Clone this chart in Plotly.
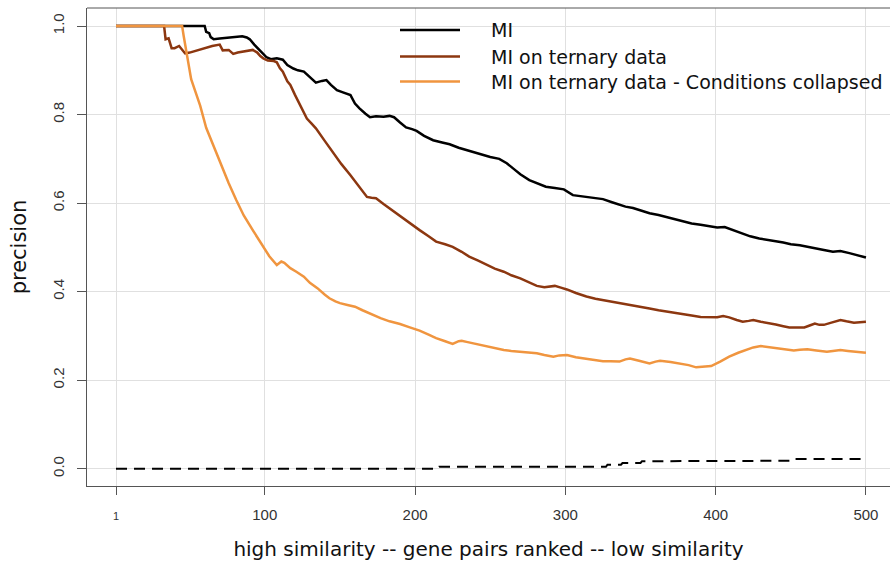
import plotly.graph_objects as go

# ---------------- data ----------------
mi_rank = [1, 60, 61, 63, 64, 66, 70, 76, 80, 85, 88, 90, 93, 96, 98, 101, 104, 108, 112, 115, 119, 122,
           126, 130, 134, 138, 141, 144, 148, 152, 157, 160, 163, 167, 170, 174, 179, 183, 186, 190, 194,
           198, 201, 206, 212, 218, 223, 229, 234, 240, 245, 250, 256, 261, 265, 270, 276, 282, 287, 293,
           299, 305, 310, 314, 320, 325, 331, 336, 340, 345, 351, 356, 362, 367, 373, 379, 384, 390, 395,
           401, 406, 412, 418, 423, 429, 434, 440, 445, 450, 456, 461, 467, 472, 478, 483, 489, 494, 500]
mi_prec = [1.0, 1.0, 0.987, 0.984, 0.975, 0.970, 0.972, 0.974, 0.976, 0.977, 0.974, 0.970, 0.958, 0.948,
           0.942, 0.930, 0.925, 0.927, 0.924, 0.912, 0.904, 0.900, 0.897, 0.885, 0.872, 0.876, 0.878, 0.867,
           0.855, 0.850, 0.844, 0.825, 0.814, 0.802, 0.794, 0.796, 0.795, 0.797, 0.794, 0.782, 0.771, 0.767,
           0.763, 0.752, 0.742, 0.737, 0.733, 0.725, 0.720, 0.714, 0.708, 0.704, 0.700, 0.690, 0.679, 0.665,
           0.652, 0.644, 0.637, 0.634, 0.631, 0.618, 0.616, 0.614, 0.612, 0.609, 0.602, 0.596, 0.592, 0.589,
           0.582, 0.577, 0.573, 0.569, 0.563, 0.558, 0.554, 0.551, 0.548, 0.545, 0.546, 0.539, 0.532, 0.525,
           0.520, 0.518, 0.514, 0.511, 0.507, 0.505, 0.502, 0.497, 0.494, 0.490, 0.492, 0.487, 0.483, 0.477]

ter_rank = [1, 33, 34, 36, 38, 40, 43, 47, 50, 55, 60, 65, 70, 72, 76, 79, 82, 86, 90, 92, 95, 97, 99, 102,
            106, 108, 110, 112, 115, 117, 120, 123, 126, 128, 131, 134, 140, 146, 151, 157, 162, 168, 171,
            174, 179, 183, 188, 192, 198, 203, 209, 214, 220, 225, 231, 236, 242, 248, 253, 259, 264, 270,
            276, 281, 286, 290, 293, 297, 301, 307, 314, 320, 325, 331, 336, 340, 345, 351, 356, 362, 367,
            373, 379, 384, 390, 395, 401, 405, 409, 414, 418, 422, 425, 430, 434, 440, 445, 449, 455, 459,
            463, 466, 469, 472, 477, 483, 487, 492, 496, 500]
ter_prec = [1.0, 1.0, 0.970, 0.972, 0.950, 0.950, 0.955, 0.938, 0.940, 0.945, 0.950, 0.955, 0.958, 0.945,
            0.946, 0.937, 0.940, 0.943, 0.946, 0.946, 0.940, 0.932, 0.927, 0.922, 0.921, 0.918, 0.905, 0.897,
            0.875, 0.867, 0.845, 0.825, 0.805, 0.791, 0.780, 0.769, 0.740, 0.712, 0.688, 0.663, 0.640, 0.614,
            0.612, 0.611, 0.598, 0.588, 0.576, 0.566, 0.550, 0.539, 0.525, 0.513, 0.507, 0.501, 0.490, 0.479,
            0.470, 0.460, 0.452, 0.445, 0.437, 0.430, 0.420, 0.413, 0.410, 0.411, 0.413, 0.409, 0.405, 0.397,
            0.389, 0.384, 0.381, 0.377, 0.374, 0.372, 0.370, 0.366, 0.362, 0.358, 0.355, 0.352, 0.349, 0.346,
            0.343, 0.342, 0.342, 0.345, 0.342, 0.336, 0.332, 0.334, 0.336, 0.332, 0.330, 0.326, 0.322, 0.319,
            0.319, 0.319, 0.324, 0.328, 0.325, 0.325, 0.330, 0.336, 0.333, 0.330, 0.331, 0.332]

col_rank = [1, 45, 46, 48, 51, 54, 57, 61, 66, 71, 76, 81, 86, 92, 98, 103, 108, 111, 113, 117, 121, 126,
            130, 135, 140, 143, 147, 150, 155, 160, 165, 170, 177, 183, 190, 196, 203, 209, 214, 220, 225,
            229, 231, 235, 239, 243, 248, 253, 259, 264, 270, 275, 281, 286, 292, 296, 301, 307, 314, 320,
            325, 330, 336, 340, 343, 349, 356, 360, 363, 370, 376, 382, 387, 393, 397, 403, 409, 415, 421,
            425, 430, 435, 441, 446, 452, 456, 461, 467, 474, 478, 483, 488, 494, 500]
col_prec = [1.0, 1.0, 0.978, 0.940, 0.880, 0.850, 0.820, 0.770, 0.727, 0.686, 0.645, 0.607, 0.572, 0.539,
            0.508, 0.480, 0.460, 0.468, 0.465, 0.453, 0.445, 0.434, 0.420, 0.408, 0.393, 0.385, 0.378, 0.374,
            0.370, 0.366, 0.358, 0.350, 0.340, 0.333, 0.327, 0.320, 0.312, 0.303, 0.295, 0.288, 0.282, 0.288,
            0.289, 0.286, 0.283, 0.279, 0.276, 0.272, 0.268, 0.266, 0.264, 0.263, 0.261, 0.257, 0.253, 0.256,
            0.257, 0.252, 0.248, 0.246, 0.243, 0.243, 0.242, 0.247, 0.249, 0.244, 0.238, 0.242, 0.244, 0.241,
            0.238, 0.234, 0.229, 0.231, 0.232, 0.242, 0.253, 0.262, 0.270, 0.274, 0.277, 0.275, 0.272, 0.270,
            0.267, 0.269, 0.270, 0.267, 0.264, 0.266, 0.268, 0.266, 0.264, 0.262]

rand_rank = [1, 215, 216, 327, 328, 337, 338, 350, 351, 400, 401, 452, 453, 500]
rand_prec = [0.0, 0.0, 0.0045, 0.0045, 0.009, 0.009, 0.013, 0.013, 0.017, 0.017, 0.018, 0.018, 0.022, 0.022]

x_ticks = [1, 100, 200, 300, 400, 500]
x_ticklabels = ['<span style="font-size:11px">1</span>', "100", "200", "300", "400", "500"]
y_ticks = [0.0, 0.2, 0.4, 0.6, 0.8, 1.0]
y_ticklabels = ["0.0", "0.2", "0.4", "0.6", "0.8", "1.0"]

legend_names = ["MI", "MI on ternary data", "MI on ternary data - Conditions collapsed"]
colors = ["#000000", "#8c3710", "#f0953f"]

# ---------------- figure ----------------
W, H = 890, 563
L, R, T, B = 87, 0, 8, 77
pw, ph = W - L - R, H - T - B

fig = go.Figure()
fig.add_trace(go.Scatter(x=rand_rank, y=rand_prec, mode="lines", showlegend=False,
                         line=dict(color="#000000", width=2, dash="11px,7px")))
for xs, ys, nm, c in [(mi_rank, mi_prec, legend_names[0], colors[0]),
                      (ter_rank, ter_prec, legend_names[1], colors[1]),
                      (col_rank, col_prec, legend_names[2], colors[2])]:
    fig.add_trace(go.Scatter(x=xs, y=ys, mode="lines", name=nm, showlegend=False,
                             line=dict(color=c, width=2.5)))

# manual legend (R-style)
def px2paper(px, py):
    return (px - L) / pw, (H - B - py) / ph

shapes = []
annotations = []
for i, (nm, c) in enumerate(zip(legend_names, colors)):
    py = [30, 56.5, 81.5][i]
    x0, y0 = px2paper(400, py)
    x1, _ = px2paper(460, py)
    shapes.append(dict(type="line", xref="paper", yref="paper", x0=x0, x1=x1, y0=y0, y1=y0,
                       line=dict(color=c, width=2.5)))
    tx, _ = px2paper(489, py)
    annotations.append(dict(text=nm, xref="paper", yref="paper", x=tx, y=y0, xanchor="left",
                            yanchor="middle", showarrow=False,
                            font=dict(family="DejaVu Sans", size=19, color="#111111")))

# top border of the box
shapes.append(dict(type="line", xref="paper", yref="paper", x0=0, x1=1, y0=1, y1=1,
                   line=dict(color="#555555", width=1)))

fig.update_layout(
    width=W, height=H, margin=dict(l=L, r=R, t=T, b=B),
    plot_bgcolor="white", paper_bgcolor="white",
    shapes=shapes, annotations=annotations,
    xaxis=dict(range=[-18.3, 516.0], tickvals=x_ticks, ticktext=x_ticklabels,
               showgrid=True, gridcolor="#e0e0e0", gridwidth=1, zeroline=False,
               showline=True, linecolor="#555555", linewidth=1,
               ticks="outside", ticklen=8, tickcolor="#555555", ticklabelstandoff=7,
               tickfont=dict(family="Liberation Sans", size=15, color="#333333"),
               title=dict(text="high similarity -- gene pairs ranked -- low similarity",
                          font=dict(family="DejaVu Sans", size=20, color="#111111"), standoff=19)),
    yaxis=dict(range=[-0.039, 1.0407], tickvals=y_ticks, ticktext=y_ticklabels, tickangle=-90,
               showgrid=True, gridcolor="#e0e0e0", gridwidth=1, zeroline=False,
               showline=True, linecolor="#555555", linewidth=1,
               ticks="outside", ticklen=9, tickcolor="#555555", ticklabelstandoff=7,
               tickfont=dict(family="Liberation Sans", size=15, color="#333333"),
               title=dict(text="precision",
                          font=dict(family="DejaVu Sans", size=21, color="#111111"), standoff=17)),
)

fig.write_html("out.html")
